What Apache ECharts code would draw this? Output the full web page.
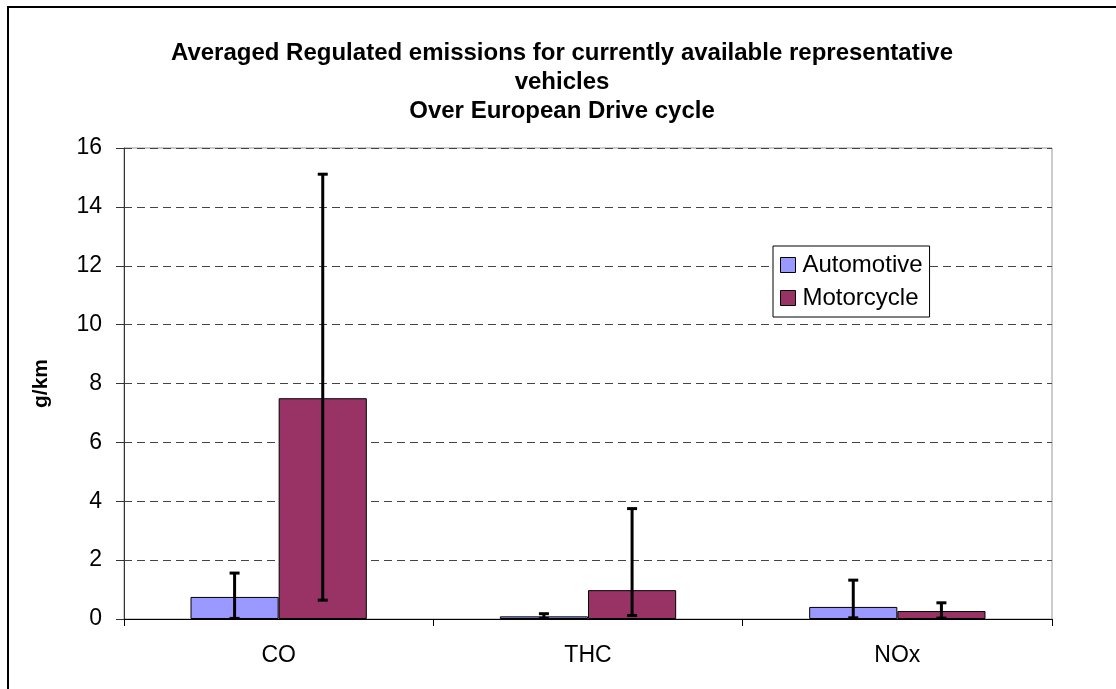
<!DOCTYPE html>
<html>
<head>
<meta charset="utf-8">
<script src="https://cdn.jsdelivr.net/npm/echarts@6/dist/echarts.min.js"></script>
<style>
  html, body { margin: 0; padding: 0; background: #fff; }
  #chart { width: 1116px; height: 689px; }
</style>
</head>
<body>
<div id="chart"></div>
<script>
// values (g/km)
const categories = ['CO', 'THC', 'NOx']
const automotive = [0.75, 0.09, 0.41]
const motorcycle = [7.5, 0.98, 0.27]
// error bar ends
const autoLow = [0.02, 0.02, 0.04]
const autoHigh = [1.56, 0.18, 1.32]
const motoLow = [0.64, 0.12, 0.03]
const motoHigh = [15.11, 3.75, 0.55]

const yTicks = { min: 0, max: 16, interval: 2 }
const catGap = 0.43

// [category index, low, high, series index]
const errData = []
categories.forEach((c, i) => {
  errData.push([i, autoLow[i], autoHigh[i], 0])
  errData.push([i, motoLow[i], motoHigh[i], 1])
})

function renderErr(params, api) {
  const idx = api.value(0)
  const lo = api.coord([idx, api.value(1)])
  const hi = api.coord([idx, api.value(2)])
  const band = api.size([1, 0])[0]
  const barW = band * (1 - catGap) / 2
  const x = lo[0] + (api.value(3) === 0 ? -barW / 2 : barW / 2)
  const cap = 5
  const style = { stroke: '#000', lineWidth: 3 }
  return {
    type: 'group',
    children: [
      { type: 'line', shape: { x1: x, y1: lo[1], x2: x, y2: hi[1] }, style },
      { type: 'line', shape: { x1: x - cap, y1: hi[1], x2: x + cap, y2: hi[1] }, style },
      { type: 'line', shape: { x1: x - cap, y1: lo[1], x2: x + cap, y2: lo[1] }, style },
    ],
  }
}

const chart = echarts.init(document.getElementById('chart'))
chart.setOption({
  animation: false,
  textStyle: { fontFamily: 'Liberation Sans, Arial, sans-serif', color: '#000' },
  title: {
    text: 'Averaged Regulated emissions for currently available representative\nvehicles\nOver European Drive cycle',
    left: 562,
    textAlign: 'center',
    top: 39,
    padding: 0,
    textStyle: { fontSize: 24, fontWeight: 'bold', lineHeight: 29, color: '#000' },
  },
  legend: {
    orient: 'vertical',
    left: 773,
    top: 246,
    padding: [7, 7, 7, 7],
    itemWidth: 15,
    itemHeight: 15,
    itemGap: 9,
    icon: 'rect',
    backgroundColor: '#fff',
    borderColor: '#000',
    borderWidth: 1,
    borderRadius: 0,
    itemStyle: { borderColor: '#000', borderWidth: 1 },
    textStyle: { fontSize: 24, color: '#000', padding: [0, 0, 0, 2] },
    data: ['Automotive', 'Motorcycle'],
  },
  graphic: [{
    type: 'rect',
    shape: { x: 8, y: 7, width: 1300, height: 900 },
    style: { fill: 'none', stroke: '#000', lineWidth: 2 },
    z: 100,
  }, {
    type: 'rect',
    shape: { x: 124, y: 148, width: 928, height: 471 },
    style: { fill: 'none', stroke: '#999', lineWidth: 1 },
    z: 0,
  }],
  grid: { left: 124, right: 64, top: 148, bottom: 70 },
  xAxis: {
    type: 'category',
    data: categories,
    axisLine: { lineStyle: { color: '#000', width: 1 } },
    axisTick: { show: true, length: 7, lineStyle: { color: '#000' } },
    axisLabel: { fontSize: 23, color: '#000', margin: 25 },
  },
  yAxis: {
    type: 'value',
    min: yTicks.min,
    max: yTicks.max,
    interval: yTicks.interval,
    name: 'g/km',
    nameLocation: 'middle',
    nameRotate: 90,
    nameGap: 72,
    nameTextStyle: { fontSize: 21, fontWeight: 'bold', color: '#000' },
    axisLine: { show: true, lineStyle: { color: '#333', width: 1 } },
    axisTick: { show: true, length: 8, lineStyle: { color: '#333' } },
    axisLabel: { fontSize: 23, color: '#000', margin: 22 },
    splitLine: { lineStyle: { color: '#444', type: [8, 5], width: 1 } },
  },
  series: [
    {
      name: 'Automotive',
      type: 'bar',
      data: automotive,
      barGap: '0%',
      barCategoryGap: (catGap * 100) + '%',
      itemStyle: { color: '#9999FF', borderColor: '#000', borderWidth: 1 },
    },
    {
      name: 'Motorcycle',
      type: 'bar',
      data: motorcycle,
      itemStyle: { color: '#993366', borderColor: '#000', borderWidth: 1 },
    },
    {
      name: 'err',
      type: 'custom',
      renderItem: renderErr,
      data: errData,
      encode: { x: 0, y: [1, 2] },
      z: 10,
      silent: true,
    },
  ],
})
</script>
</body>
</html>
